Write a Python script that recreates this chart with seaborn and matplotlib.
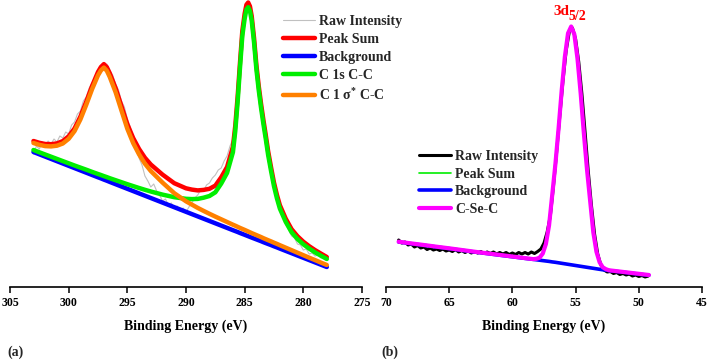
import numpy as np
import matplotlib
matplotlib.use("Agg")
import matplotlib.pyplot as plt
import seaborn as sns

# ---- panel (a): C 1s region, intensities in arbitrary units
E_A = [303, 302.5, 302, 301.5, 301, 300.5, 300, 299.5, 299, 298.5, 298, 297.5, 297.25,
       297, 296.75, 296.5, 296, 295.5, 295, 294.5, 294, 293.5, 293, 292, 291, 290,
       289.5, 289, 288.5, 288, 287.5, 287, 286.5, 286, 285.8, 285.6, 285.4, 285.2, 285,
       284.85, 284.7, 284.55, 284.4, 284.2, 284, 283.8, 283.6, 283.4, 283.2, 283,
       282.75, 282.5, 282.25, 282, 281.5, 281, 280.5, 280, 279.5, 279, 278.5, 278]
BACKGROUND_A = [135.0, 132.7, 130.4, 128.1, 125.8, 123.5, 121.2, 118.9, 116.6, 114.3, 112.0,
                109.7, 108.6, 107.4, 106.3, 105.1, 102.8, 100.5, 98.2, 95.9, 93.6, 91.3,
                89.0, 84.4, 79.8, 75.2, 72.9, 70.6, 68.3, 66.0, 63.7, 61.4, 59.1, 56.8,
                55.9, 55.0, 54.0, 53.1, 52.2, 51.5, 50.8, 50.1, 49.4, 48.5, 47.6, 46.7,
                45.8, 44.8, 43.9, 43.0, 41.9, 40.7, 39.6, 38.4, 36.1, 33.8, 31.5, 29.2,
                26.9, 24.6, 22.3, 20.0]
C1S_CC = [137.0, 134.7, 132.5, 130.3, 128.1, 125.9, 123.7, 121.5, 119.4, 117.3, 115.1,
          113.0, 112.0, 110.9, 109.9, 108.8, 106.8, 104.8, 102.8, 100.9, 99.0, 97.2,
          95.5, 92.4, 89.8, 88.2, 87.9, 88.1, 89.3, 91.0, 94.7, 103.4, 114.1, 134.8,
          155.9, 185.0, 219.0, 251.1, 268.5, 277.5, 279.8, 276.1, 266.4, 244.5, 217.6,
          196.7, 178.8, 162.8, 147.9, 132.0, 115.9, 100.7, 88.6, 78.4, 65.1, 54.8,
          48.0, 42.7, 38.4, 34.6, 31.3, 28.0]
C1_SIGMA = [144.0, 142.2, 140.9, 140.6, 141.3, 143.5, 148.2, 155.9, 167.6, 182.3, 198.0,
            211.7, 216.6, 219.4, 216.3, 210.1, 194.8, 176.5, 158.2, 143.9, 132.6, 123.3,
            116.0, 104.4, 93.8, 85.7, 82.4, 79.1, 76.1, 73.2, 70.4, 67.7, 65.0, 62.3,
            61.3, 60.2, 59.1, 58.1, 57.1, 56.3, 55.5, 54.7, 53.9, 52.9, 51.9, 50.9,
            49.9, 48.8, 47.8, 46.8, 45.6, 44.3, 43.1, 41.8, 39.3, 36.8, 34.3, 31.8,
            29.3, 26.9, 24.4, 22.0]
PEAK_SUM_A = [146.0, 144.2, 143.0, 142.8, 143.6, 145.9, 150.7, 158.5, 170.4, 185.3, 201.1,
              215.0, 220.0, 222.9, 219.9, 213.8, 198.8, 180.8, 162.8, 148.9, 138.0, 129.2,
              122.5, 112.4, 103.8, 98.7, 97.4, 96.6, 97.1, 98.2, 101.4, 109.7, 120.0,
              140.3, 161.3, 190.2, 224.1, 256.1, 273.4, 282.3, 284.5, 280.7, 270.9, 248.9,
              221.9, 200.9, 182.9, 166.8, 151.8, 135.8, 119.6, 104.3, 92.1, 81.8, 68.3,
              57.8, 50.8, 45.3, 40.8, 36.9, 33.4, 30.0]
E_RAW_A = np.linspace(303, 278, 101)
RAW_A = [133,
         141, 138, 145, 141, 146, 143, 148, 145, 151, 149, 155, 153,
         162, 165, 173, 176, 186, 190, 199, 204, 210, 213, 219, 218,
         223, 216, 212, 203, 197, 186, 180, 168, 160, 149, 141, 129,
         122, 111, 106, 100, 103, 96, 92, 86, 88, 82, 84, 79,
         81, 76, 79, 75, 80, 84, 89, 92, 97, 96, 102, 104,
         109, 112, 117, 119, 126, 131, 141, 148, 168, 204, 245, 270,
         283, 276, 253, 219, 194, 171, 153, 133, 118, 101, 90, 79,
         73, 63, 57, 51, 49, 43, 42, 37, 38, 33, 34, 31,
         32, 29, 30, 27]

# ---- panel (b): Se 3d region
E_B = [69, 68, 67, 66, 65, 64, 63, 62, 61, 60, 59, 58.35, 58.1, 57.85, 57.6, 57.35,
       57.1, 56.85, 56.6, 56.35, 56.1, 55.85, 55.6, 55.35, 55.1, 54.85, 54.6, 54.35,
       54.1, 53.85, 53.6, 53.35, 53.1, 52.85, 52.6, 52.35, 52, 51, 50, 49.2]
BACKGROUND_B = [45, 43.3, 41.7, 40, 38.4, 36.7, 35, 33.4, 31.8, 30.2, 28.6, 27.6, 27.2,
                26.8, 26.4, 26, 25.6, 25.1, 24.7, 24.2, 23.7, 23.2, 22.7, 22.2, 21.7,
                21.2, 20.7, 20.2, 19.7, 19.2, 18.7, 18.2, 17.7, 17.2, 16.8, 16.4, 15.9,
                14.4, 12.9, 11.7]
C_SE_C = [45.3, 43.6, 42, 40.3, 38.7, 37, 35.3, 33.7, 32.1, 30.5, 28.9, 27.9, 28.2, 29.3,
          33.4, 43, 61.6, 92.1, 122.7, 158.2, 196.7, 230.2, 253.7, 260.5, 252.7, 228.2,
          193.7, 154.2, 117.7, 86.2, 54.7, 35.2, 24.7, 19.7, 17.8, 16.7, 16.2, 14.7,
          13.2, 12.0]
PEAK_SUM_B = C_SE_C
E_RAW_B = np.linspace(69, 49.25, 80)
RAW_B = [47,
         44, 45, 42, 43, 40, 41.5, 39, 40, 37.5, 39, 37, 38,
         36.5, 38, 36, 37, 35.5, 37.5, 35, 36.5, 34.5, 36, 34, 35.5,
         34, 35.5, 33.5, 35, 33.5, 35, 33, 34.5, 33, 34.5, 32.5, 34,
         32.5, 34.5, 33, 34.5, 33, 35, 33.5, 35.5, 38, 44, 55, 71,
         101, 135, 171, 206, 236, 255, 259, 248, 225, 193, 155, 116,
         82, 53, 33, 22, 17, 15, 15.5, 13.5, 14.5, 12.5, 13.5, 12,
         13, 11, 12, 10.5, 11.5, 10, 11]

TICKS_A = [305, 300, 295, 290, 285, 280, 275]
TICKS_B = [70, 65, 60, 55, 50, 45]

sns.set_theme(style="white")
plt.rcParams["font.family"] = ["Liberation Serif", "DejaVu Serif"]
plt.rcParams["font.weight"] = "bold"
plt.rcParams["mathtext.fontset"] = "custom"
plt.rcParams["mathtext.rm"] = "Liberation Serif:bold"
plt.rcParams["mathtext.it"] = "Liberation Serif:italic:bold"
plt.rcParams["mathtext.bf"] = "Liberation Serif:bold"

W, H = 709, 361
fig = plt.figure(figsize=(W / 100, H / 100), dpi=100)
ax_a = fig.add_axes([10 / W, 74 / H, 352 / W, 287 / H])
ax_b = fig.add_axes([386 / W, 74 / H, 316 / W, 287 / H])


def line(ax, x, y, color, lw, label):
    sns.lineplot(x=x, y=y, ax=ax, color=color, linewidth=lw, label=label,
                 estimator=None, sort=False)


# (a)
line(ax_a, E_RAW_A, RAW_A, "#c0c0c0", 0.8, "Raw Intensity")
line(ax_a, E_A, PEAK_SUM_A, "#ff0000", 3.2, "Peak Sum")
line(ax_a, E_A, BACKGROUND_A, "#0000ff", 3.2, "Background")
line(ax_a, E_A, C1S_CC, "#00ee00", 3.2, "C 1s C-C")
line(ax_a, E_A, C1_SIGMA, "#ff8000", 3.2, "C 1 σ$^{*}$ C-C")

# (b)
line(ax_b, E_RAW_B, RAW_B, "#000000", 2.2, "Raw Intensity")
line(ax_b, E_B, PEAK_SUM_B, "#00ee00", 1.2, "Peak Sum")
line(ax_b, E_B, BACKGROUND_B, "#0000ff", 2.6, "Background")
line(ax_b, E_B, C_SE_C, "#ff00ff", 3.0, "C-Se-C")

for ax, ticks in ((ax_a, TICKS_A), (ax_b, TICKS_B)):
    ax.set_xlim(ticks[0], ticks[-1])
    ax.set_ylim(0, 287)
    ax.set_xticks(ticks)
    ax.set_yticks([])
    ax.set_ylabel("")
    sns.despine(ax=ax, left=True)
    ax.spines["bottom"].set_color("black")
    ax.spines["bottom"].set_linewidth(1.2)
    ax.tick_params(axis="x", bottom=True, direction="out", length=4, width=1.1,
                   color="black", labelsize=8.5, pad=3, labelcolor="black")
    ax.set_xlabel("Binding Energy (eV)", fontsize=10, fontweight="bold", labelpad=8,
                  color="black")
    ax.patch.set_alpha(0)

leg_kw = dict(loc="upper left", frameon=False, fontsize=10, handlelength=2.3,
              handletextpad=0.3, borderpad=0, borderaxespad=0,
              bbox_transform=fig.transFigure)
ax_a.legend(bbox_to_anchor=(283 / W, 1 - 15 / H), labelspacing=0.36, **leg_kw)
ax_b.legend(bbox_to_anchor=(419 / W, 1 - 150 / H), labelspacing=0.33, **leg_kw)

fig.text(553 / W, 1 - 15 / H, "3d", color="#ff0000", fontsize=11, fontweight="bold",
         va="baseline", ha="left")
fig.text(568 / W, 1 - 20 / H, "5/2", color="#ff0000", fontsize=10, fontweight="bold",
         va="baseline", ha="left")

fig.text(7 / W, 1 - 352 / H, "(a)", fontsize=10, fontweight="bold", va="center")
fig.text(381 / W, 1 - 352 / H, "(b)", fontsize=10, fontweight="bold", va="center")

fig.savefig("out.png", dpi=100)
